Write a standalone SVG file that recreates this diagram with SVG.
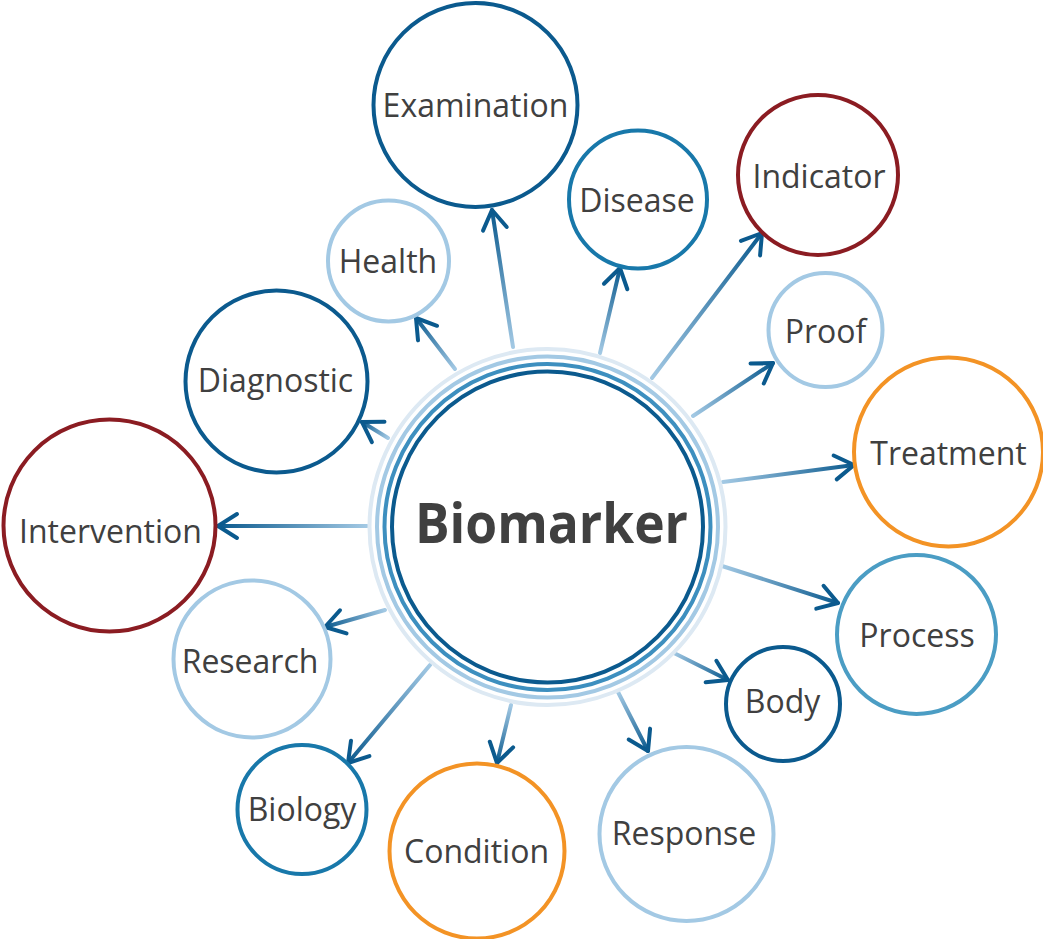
<svg xmlns="http://www.w3.org/2000/svg" width="1043" height="939" viewBox="0 0 1043 939">
<style>
.node{fill:#fff;stroke-width:4}
.lbl{font-family:"Open Sans","Liberation Sans",sans-serif;font-size:32px;fill:#404040;text-anchor:middle}
.dk{stroke:#0b5a8e}.md{stroke:#1878aa}.pr{stroke:#4b9dc4}.lt{stroke:#a3c9e4}.rd{stroke:#8b1c22}.or{stroke:#f39325}
.con{fill:none;stroke-width:4;stroke-linecap:round;marker-end:url(#ah)}
</style>
<defs>
<marker id="ah" markerUnits="userSpaceOnUse" markerWidth="32" markerHeight="32" viewBox="-24 -16 28 32" refX="0" refY="0" orient="auto">
<path d="M-19,-12 L0,0 L-19,12" fill="none" stroke="#0b5a8e" stroke-width="4" stroke-linecap="round" stroke-linejoin="round"/>
</marker>
<linearGradient id="g1" gradientUnits="userSpaceOnUse" x1="513" y1="347" x2="492" y2="210"><stop offset="0" stop-color="#a3c9e4"/><stop offset="1" stop-color="#0b5a8e"/></linearGradient>
<linearGradient id="g2" gradientUnits="userSpaceOnUse" x1="600" y1="353" x2="620" y2="268"><stop offset="0" stop-color="#a3c9e4"/><stop offset="1" stop-color="#0b5a8e"/></linearGradient>
<linearGradient id="g3" gradientUnits="userSpaceOnUse" x1="652" y1="378" x2="762" y2="233"><stop offset="0" stop-color="#a3c9e4"/><stop offset="1" stop-color="#0b5a8e"/></linearGradient>
<linearGradient id="g4" gradientUnits="userSpaceOnUse" x1="455" y1="369" x2="416" y2="318"><stop offset="0" stop-color="#a3c9e4"/><stop offset="1" stop-color="#0b5a8e"/></linearGradient>
<linearGradient id="g5" gradientUnits="userSpaceOnUse" x1="388" y1="438" x2="362" y2="422"><stop offset="0" stop-color="#a3c9e4"/><stop offset="1" stop-color="#0b5a8e"/></linearGradient>
<linearGradient id="g6" gradientUnits="userSpaceOnUse" x1="693" y1="416" x2="773" y2="363"><stop offset="0" stop-color="#a3c9e4"/><stop offset="1" stop-color="#0b5a8e"/></linearGradient>
<linearGradient id="g7" gradientUnits="userSpaceOnUse" x1="723" y1="482" x2="854" y2="465"><stop offset="0" stop-color="#a3c9e4"/><stop offset="1" stop-color="#0b5a8e"/></linearGradient>
<linearGradient id="g8" gradientUnits="userSpaceOnUse" x1="367" y1="526" x2="218" y2="526"><stop offset="0" stop-color="#a3c9e4"/><stop offset="1" stop-color="#0b5a8e"/></linearGradient>
<linearGradient id="g9" gradientUnits="userSpaceOnUse" x1="722" y1="566" x2="838" y2="603"><stop offset="0" stop-color="#a3c9e4"/><stop offset="1" stop-color="#0b5a8e"/></linearGradient>
<linearGradient id="g10" gradientUnits="userSpaceOnUse" x1="385" y1="610" x2="325" y2="627"><stop offset="0" stop-color="#a3c9e4"/><stop offset="1" stop-color="#0b5a8e"/></linearGradient>
<linearGradient id="g11" gradientUnits="userSpaceOnUse" x1="430" y1="665" x2="348" y2="763"><stop offset="0" stop-color="#a3c9e4"/><stop offset="1" stop-color="#0b5a8e"/></linearGradient>
<linearGradient id="g12" gradientUnits="userSpaceOnUse" x1="511" y1="705" x2="497" y2="763"><stop offset="0" stop-color="#a3c9e4"/><stop offset="1" stop-color="#0b5a8e"/></linearGradient>
<linearGradient id="g13" gradientUnits="userSpaceOnUse" x1="672" y1="652" x2="728" y2="680"><stop offset="0" stop-color="#a3c9e4"/><stop offset="1" stop-color="#0b5a8e"/></linearGradient>
<linearGradient id="g14" gradientUnits="userSpaceOnUse" x1="618" y1="692" x2="648" y2="751"><stop offset="0" stop-color="#a3c9e4"/><stop offset="1" stop-color="#0b5a8e"/></linearGradient>
</defs>
<rect width="1043" height="939" fill="#fff"/>
<g id="connectors">
<line class="con" stroke="url(#g1)" x1="513" y1="347" x2="492" y2="210"/>
<line class="con" stroke="url(#g2)" x1="600" y1="353" x2="620" y2="268"/>
<line class="con" stroke="url(#g3)" x1="652" y1="378" x2="762" y2="233"/>
<line class="con" stroke="url(#g4)" x1="455" y1="369" x2="416" y2="318"/>
<line class="con" stroke="url(#g5)" x1="388" y1="438" x2="362" y2="422"/>
<line class="con" stroke="url(#g6)" x1="693" y1="416" x2="773" y2="363"/>
<line class="con" stroke="url(#g7)" x1="723" y1="482" x2="854" y2="465"/>
<line class="con" stroke="url(#g8)" x1="367" y1="526" x2="218" y2="526"/>
<line class="con" stroke="url(#g9)" x1="722" y1="566" x2="838" y2="603"/>
<line class="con" stroke="url(#g10)" x1="385" y1="610" x2="325" y2="627"/>
<line class="con" stroke="url(#g11)" x1="430" y1="665" x2="348" y2="763"/>
<line class="con" stroke="url(#g12)" x1="511" y1="705" x2="497" y2="763"/>
<line class="con" stroke="url(#g13)" x1="672" y1="652" x2="728" y2="680"/>
<line class="con" stroke="url(#g14)" x1="618" y1="692" x2="648" y2="751"/>
</g>
<g id="biomarker">
<circle cx="547.5" cy="527" r="178" fill="#fff" stroke="#dde9f3" stroke-width="4"/>
<circle cx="547.5" cy="527" r="170.5" fill="none" stroke="#a3c9e4" stroke-width="4"/>
<circle cx="547.5" cy="527" r="163" fill="none" stroke="#3d8fbf" stroke-width="4"/>
<circle cx="547.5" cy="527" r="155.5" fill="none" stroke="#0b5a8e" stroke-width="4"/>
<text x="551.5" y="543" font-family="'Open Sans','Liberation Sans',sans-serif" font-weight="bold" font-size="56" fill="#404040" text-anchor="middle" textLength="273" lengthAdjust="spacingAndGlyphs">Biomarker</text>
</g>
<g id="examination"><circle class="node dk" cx="475.5" cy="105" r="102"/><text class="lbl" x="475.5" y="117">Examination</text></g>
<g id="disease"><circle class="node md" cx="638" cy="199.5" r="69"/><text class="lbl" x="637" y="212">Disease</text></g>
<g id="indicator"><circle class="node rd" cx="818" cy="175" r="80"/><text class="lbl" x="819" y="188">Indicator</text></g>
<g id="health"><circle class="node lt" cx="388.5" cy="261" r="60.5"/><text class="lbl" x="388" y="273">Health</text></g>
<g id="proof"><circle class="node lt" cx="825.5" cy="330" r="57"/><text class="lbl" x="825.5" y="343">Proof</text></g>
<g id="diagnostic"><circle class="node dk" cx="276.5" cy="381.5" r="91"/><text class="lbl" x="275.5" y="392">Diagnostic</text></g>
<g id="treatment"><circle class="node or" cx="948.5" cy="452" r="94.5"/><text class="lbl" x="948.5" y="465">Treatment</text></g>
<g id="intervention"><circle class="node rd" cx="109.5" cy="525.5" r="106"/><text class="lbl" x="110.5" y="543">Intervention</text></g>
<g id="process"><circle class="node pr" cx="916.5" cy="634.5" r="79.5"/><text class="lbl" x="917" y="647">Process</text></g>
<g id="research"><circle class="node lt" cx="252" cy="659" r="78.5"/><text class="lbl" x="250" y="673">Research</text></g>
<g id="body"><circle class="node dk" cx="783" cy="704" r="57"/><text class="lbl" x="782.5" y="713">Body</text></g>
<g id="biology"><circle class="node md" cx="302" cy="809.5" r="64.5"/><text class="lbl" x="302" y="821">Biology</text></g>
<g id="condition"><circle class="node or" cx="477" cy="851" r="87.5"/><text class="lbl" x="476.5" y="863">Condition</text></g>
<g id="response"><circle class="node lt" cx="686.5" cy="834" r="87"/><text class="lbl" x="684" y="845">Response</text></g>
</svg>
